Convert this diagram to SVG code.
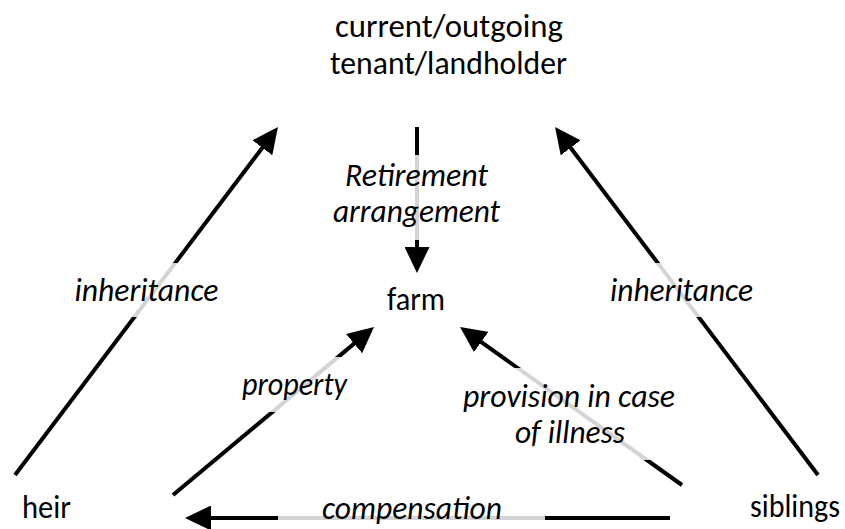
<svg xmlns="http://www.w3.org/2000/svg" width="845" height="529" viewBox="0 0 845 529">
  <style>
    text { font-family: Carlito, Lato, "Liberation Sans", sans-serif; font-size: 32px; fill: #000; }
    .lbl { font-style: italic; text-anchor: middle; }
    .node { text-anchor: middle; }
    .edge { stroke: #000; stroke-width: 4; fill: none; marker-end: url(#arrow); }
    .box { fill: #fff; fill-opacity: 0.83; stroke: none; }
  </style>
  <defs>
    <marker id="arrow" viewBox="0 0 26 25" refX="2" refY="12.5" markerWidth="26" markerHeight="25" markerUnits="userSpaceOnUse" orient="auto">
      <path d="M0,0 L26,12.5 L0,25 z" fill="#000"/>
    </marker>
  </defs>
  <rect width="845" height="529" fill="#fff"/>

  <g id="connectors">
    <g id="e-heir-tenant">
      <line class="edge" x1="15" y1="475" x2="263.5" y2="146.2"/>
      <rect class="box" x="64" y="263" width="164" height="54"/>
      <text class="lbl" x="146.5" y="301" textLength="144" lengthAdjust="spacingAndGlyphs">inheritance</text>
    </g>
    <g id="e-siblings-tenant">
      <line class="edge" x1="818" y1="475" x2="569.5" y2="146.2"/>
      <rect class="box" x="600" y="263" width="163" height="54"/>
      <text class="lbl" x="681.5" y="301" textLength="143" lengthAdjust="spacingAndGlyphs">inheritance</text>
    </g>
    <g id="e-tenant-farm">
      <line class="edge" x1="417" y1="127" x2="417" y2="249"/>
      <rect class="box" x="323" y="155" width="188" height="85"/>
      <text class="lbl" x="416.5" y="186" textLength="143" lengthAdjust="spacingAndGlyphs">Retirement</text>
      <text class="lbl" x="416.5" y="222" textLength="167" lengthAdjust="spacingAndGlyphs">arrangement</text>
    </g>
    <g id="e-heir-farm">
      <line class="edge" x1="173" y1="495" x2="355.6" y2="342.4"/>
      <rect class="box" x="230" y="357" width="128" height="55"/>
      <text class="lbl" x="294.5" y="395" textLength="105" lengthAdjust="spacingAndGlyphs">property</text>
    </g>
    <g id="e-siblings-farm">
      <line class="edge" x1="682" y1="485" x2="479.6" y2="340.9"/>
      <rect class="box" x="453" y="368" width="234" height="92"/>
      <text class="lbl" x="569" y="407" textLength="212" lengthAdjust="spacingAndGlyphs">provision in case</text>
      <text class="lbl" x="570" y="443" textLength="110" lengthAdjust="spacingAndGlyphs">of illness</text>
    </g>
    <g id="e-siblings-heir">
      <line class="edge" x1="670" y1="518" x2="209" y2="518"/>
      <rect class="box" x="278" y="498" width="267" height="30"/>
      <text class="lbl" x="412" y="519" textLength="180" lengthAdjust="spacingAndGlyphs">compensation</text>
    </g>
  </g>

  <g id="n-tenant">
    <text class="node" x="449" y="37" textLength="228" lengthAdjust="spacingAndGlyphs">current/outgoing</text>
    <text class="node" x="448.5" y="74" textLength="237" lengthAdjust="spacingAndGlyphs">tenant/landholder</text>
  </g>
  <g id="n-farm">
    <text class="node" x="416" y="310" textLength="58" lengthAdjust="spacingAndGlyphs">farm</text>
  </g>
  <g id="n-heir">
    <text class="node" x="46.5" y="518" textLength="49" lengthAdjust="spacingAndGlyphs">heir</text>
  </g>
  <g id="n-siblings">
    <text class="node" x="795" y="517" textLength="90" lengthAdjust="spacingAndGlyphs">siblings</text>
  </g>
</svg>
